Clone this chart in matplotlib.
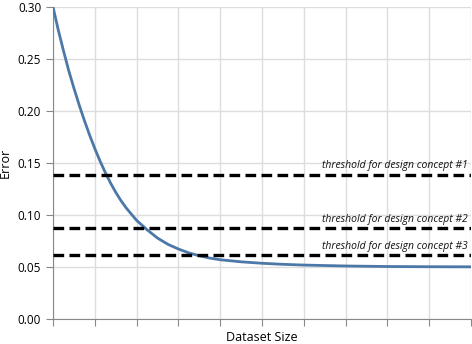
import matplotlib
matplotlib.use('Agg')
import matplotlib.pyplot as plt

plt.rcParams['font.family'] = ['Open Sans', 'DejaVu Sans']

# データ
dataset_size = [0, 0.125, 0.25, 0.375, 0.5, 0.625, 0.75, 0.875, 1.0, 1.125, 1.25,
                1.375, 1.5, 1.625, 1.75, 1.875, 2.0, 2.25, 2.5, 2.75, 3.0, 3.25,
                3.5, 3.75, 4.0, 4.5, 5.0, 5.5, 6.0, 7.0, 8.0, 9.0, 10.0]
error = [0.300, 0.278, 0.258, 0.239, 0.222, 0.206, 0.191, 0.177, 0.164, 0.152,
         0.141, 0.131, 0.122, 0.114, 0.107, 0.101, 0.095, 0.086, 0.078, 0.072,
         0.0675, 0.0638, 0.0610, 0.0588, 0.0572, 0.0552, 0.0538, 0.0528, 0.0521,
         0.0512, 0.0507, 0.0505, 0.0504]

thresholds = [0.139, 0.088, 0.062]
threshold_labels = ['threshold for design concept #1',
                    'threshold for design concept #2',
                    'threshold for design concept #3']

fig = plt.figure(figsize=(4.72, 3.44), dpi=100)
ax = fig.add_axes([0.1123, 0.0718, 0.8857, 0.908])

ax.plot(dataset_size, error, color='#4c78a8', linewidth=2, zorder=3)

for t, lab in zip(thresholds, threshold_labels):
    ax.axhline(t, color='black', linestyle=(0, (3.2, 1.6)), linewidth=2.4, zorder=4)
    ax.text(9.93, t + 0.003, lab, ha='right', va='bottom', fontsize=7.5,
            style='italic', color='#111111')

ax.set_xlim(0, 10)
ax.set_ylim(0, 0.30)
ax.set_xticks(range(0, 11))
ax.set_xticklabels([])
ax.set_yticks([0, 0.05, 0.10, 0.15, 0.20, 0.25, 0.30])
ax.set_yticklabels(['0.00', '0.05', '0.10', '0.15', '0.20', '0.25', '0.30'])
ax.grid(True, color='#dddddd', linewidth=1)
ax.set_axisbelow(True)

for side in ['top', 'right']:
    ax.spines[side].set_visible(False)
for side in ['left', 'bottom']:
    ax.spines[side].set_color('#888888')
ax.tick_params(colors='#888888', length=5, labelcolor='black', labelsize=8.5)

# x軸ラベルは位置を直接指定
fig.text(0.555, 0.02, 'Dataset Size', ha='center', va='center', fontsize=9)
ax.set_ylabel('Error', fontsize=9, labelpad=4)

plt.savefig('out.png', dpi=100)
